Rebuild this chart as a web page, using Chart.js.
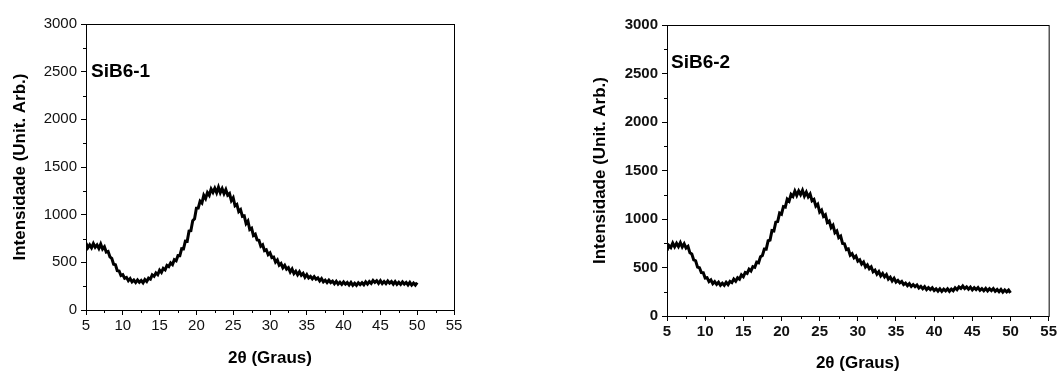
<!DOCTYPE html>
<html lang="pt">
<head>
    <meta charset="UTF-8">
    <title>SiB6 - DRX</title>
    <script src="https://cdn.jsdelivr.net/npm/chart.js"></script>
    <style>
        body { margin: 0; background: #fff; }
        .panel { position: absolute; top: 0; height: 374px; }
        #leftPanel { left: 0; width: 500px; }
        #rightPanel { left: 560px; width: 499px; }
    </style>
</head>
<body>
    <div class="panel" id="leftPanel"><canvas id="chart1"></canvas></div>
    <div class="panel" id="rightPanel"><canvas id="chart2"></canvas></div>

    <script>
        // 2theta (graus)
        const angles = [
            5, 5.25, 5.5, 5.75, 6, 6.25, 6.5, 6.75, 7, 7.25, 7.5, 7.75,
            8, 8.25, 8.5, 8.75, 9, 9.25, 9.5, 9.75, 10, 10.25, 10.5, 10.75,
            11, 11.25, 11.5, 11.75, 12, 12.25, 12.5, 12.75, 13, 13.25, 13.5, 13.75,
            14, 14.25, 14.5, 14.75, 15, 15.25, 15.5, 15.75, 16, 16.25, 16.5, 16.75,
            17, 17.25, 17.5, 17.75, 18, 18.25, 18.5, 18.75, 19, 19.25, 19.5, 19.75,
            20, 20.25, 20.5, 20.75, 21, 21.25, 21.5, 21.75, 22, 22.25, 22.5, 22.75,
            23, 23.25, 23.5, 23.75, 24, 24.25, 24.5, 24.75, 25, 25.25, 25.5, 25.75,
            26, 26.25, 26.5, 26.75, 27, 27.25, 27.5, 27.75, 28, 28.25, 28.5, 28.75,
            29, 29.25, 29.5, 29.75, 30, 30.25, 30.5, 30.75, 31, 31.25, 31.5, 31.75,
            32, 32.25, 32.5, 32.75, 33, 33.25, 33.5, 33.75, 34, 34.25, 34.5, 34.75,
            35, 35.25, 35.5, 35.75, 36, 36.25, 36.5, 36.75, 37, 37.25, 37.5, 37.75,
            38, 38.25, 38.5, 38.75, 39, 39.25, 39.5, 39.75, 40, 40.25, 40.5, 40.75,
            41, 41.25, 41.5, 41.75, 42, 42.25, 42.5, 42.75, 43, 43.25, 43.5, 43.75,
            44, 44.25, 44.5, 44.75, 45, 45.25, 45.5, 45.75, 46, 46.25, 46.5, 46.75,
            47, 47.25, 47.5, 47.75, 48, 48.25, 48.5, 48.75, 49, 49.25, 49.5, 49.75,
            50
        ];

        // SiB6-1 intensity (noisy trace)
        const sib61 = [
            702, 653, 683, 652, 697, 659, 683, 646, 692, 640, 663, 608,
            615, 558, 542, 480, 475, 413, 409, 362, 370, 333, 342, 307,
            330, 295, 314, 288, 315, 291, 310, 286, 320, 299, 334, 323,
            368, 353, 389, 370, 418, 394, 436, 421, 468, 456, 494, 476,
            528, 516, 571, 570, 643, 641, 722, 720, 828, 832, 937, 957,
            1068, 1069, 1142, 1122, 1203, 1169, 1232, 1204, 1268, 1234, 1277, 1230,
            1288, 1230, 1272, 1221, 1263, 1205, 1222, 1148, 1178, 1093, 1107, 1033,
            1053, 981, 987, 907, 933, 844, 857, 782, 795, 735, 731, 670,
            685, 622, 632, 582, 600, 550, 556, 502, 525, 470, 487, 443,
            468, 428, 444, 399, 430, 382, 407, 369, 400, 364, 384, 343,
            372, 337, 353, 327, 349, 323, 336, 306, 330, 296, 313, 288,
            312, 288, 303, 275, 301, 271, 291, 268, 294, 271, 288, 262,
            289, 260, 281, 259, 286, 267, 287, 265, 296, 272, 298, 280,
            310, 289, 307, 280, 307, 277, 298, 277, 304, 281, 298, 271,
            298, 269, 290, 268, 294, 272, 289, 263, 290, 261, 283, 261,
            287
        ];

        // SiB6-2 intensity (noisy trace)
        const sib62 = [
            676, 727, 706, 752, 713, 750, 716, 757, 711, 744, 701, 717,
            651, 640, 579, 570, 504, 498, 447, 446, 391, 395, 355, 373,
            334, 354, 327, 349, 316, 338, 316, 348, 324, 357, 344, 380,
            359, 395, 380, 424, 405, 449, 439, 483, 465, 509, 502, 556,
            549, 612, 624, 691, 690, 776, 782, 880, 876, 968, 973, 1061,
            1050, 1128, 1122, 1205, 1185, 1254, 1233, 1288, 1243, 1289, 1252, 1296,
            1237, 1276, 1228, 1258, 1188, 1202, 1132, 1152, 1072, 1092, 1028, 1045,
            965, 979, 912, 936, 859, 876, 808, 823, 748, 745, 685, 691,
            626, 642, 600, 618, 566, 580, 535, 556, 506, 527, 488, 507,
            456, 473, 432, 458, 413, 438, 403, 427, 381, 400, 361, 388,
            350, 367, 342, 357, 324, 339, 313, 333, 304, 324, 302, 320,
            289, 305, 281, 302, 273, 293, 272, 291, 262, 280, 257, 280,
            254, 277, 259, 281, 255, 278, 261, 291, 271, 299, 284, 309,
            283, 300, 276, 298, 270, 292, 272, 293, 265, 283, 261, 284,
            258, 281, 262, 283, 255, 273, 250, 273, 246, 268, 248, 267,
            238
        ];

        const minorXTicks = [7.5, 12.5, 17.5, 22.5, 27.5, 32.5, 37.5, 42.5, 47.5, 52.5];
        const minorYTicks = [250, 750, 1250, 1750, 2250, 2750];

        const FONT = '"Liberation Sans", Arial, sans-serif';

        // frame, minor ticks and sample name
        const framePlugin = {
            id: 'frame',
            afterDraw(chart, args, opts) {
                const { ctx, chartArea: a, scales: { x, y } } = chart;
                ctx.save();
                ctx.strokeStyle = '#000';
                ctx.lineWidth = 1;
                ctx.strokeRect(a.left + 0.5, a.top + 0.5, a.right - a.left, a.bottom - a.top);
                ctx.beginPath();
                minorXTicks.forEach(v => {
                    const px = Math.round(x.getPixelForValue(v)) + 0.5;
                    ctx.moveTo(px, a.bottom);
                    ctx.lineTo(px, a.bottom + 3);
                });
                minorYTicks.forEach(v => {
                    const py = Math.round(y.getPixelForValue(v)) + 0.5;
                    ctx.moveTo(a.left, py);
                    ctx.lineTo(a.left - 3, py);
                });
                ctx.stroke();
                ctx.fillStyle = '#000';
                ctx.font = 'bold 19px ' + FONT;
                ctx.textBaseline = 'middle';
                ctx.fillText(opts.label, a.left + opts.dx, y.getPixelForValue(opts.labelY));
                ctx.restore();
            }
        };

        function makeChart(id, values, cfg) {
            const tickFont = { family: FONT, size: 15, weight: cfg.boldTicks ? 'bold' : 'normal' };
            const titleFont = { family: FONT, size: 17, weight: 'bold' };
            new Chart(document.getElementById(id), {
                type: 'line',
                data: {
                    labels: angles,
                    datasets: [{
                        data: values,
                        borderColor: '#000',
                        borderWidth: 3,
                        pointRadius: 0,
                        tension: 0
                    }]
                },
                options: {
                    responsive: true,
                    maintainAspectRatio: false,
                    animation: false,
                    layout: { padding: cfg.padding },
                    plugins: {
                        legend: { display: false },
                        tooltip: { enabled: false },
                        frame: { label: cfg.label, labelY: cfg.labelY, dx: cfg.labelDx }
                    },
                    scales: {
                        x: {
                            type: 'linear',
                            min: 5,
                            max: 55,
                            afterFit: s => { s.height = cfg.xHeight; },
                            ticks: { stepSize: 5, color: '#111', font: tickFont, padding: 2, maxRotation: 0, callback: v => String(v) },
                            grid: { drawOnChartArea: false, drawTicks: true, tickLength: 5, color: '#000' },
                            border: { display: true, color: '#000', width: 1 },
                            title: {
                                display: true,
                                text: '2θ (Graus)',
                                color: '#000',
                                font: titleFont,
                                padding: { top: 0, bottom: cfg.xTitlePad }
                            }
                        },
                        y: {
                            min: 0,
                            max: 3000,
                            afterFit: s => { s.width = cfg.yWidth; },
                            ticks: { stepSize: 500, color: '#111', font: tickFont, padding: 4, callback: v => String(v) },
                            grid: { drawOnChartArea: false, drawTicks: true, tickLength: 5, color: '#000' },
                            border: { display: true, color: '#000', width: 1 },
                            title: {
                                display: true,
                                text: 'Intensidade (Unit. Arb.)',
                                color: '#000',
                                font: titleFont,
                                padding: { top: cfg.yTitlePad, bottom: 0 }
                            }
                        }
                    }
                },
                plugins: [framePlugin]
            });
        }

        makeChart('chart1', sib61, {
            label: 'SiB6-1', labelY: 2500, labelDx: 5,
            padding: { top: 24, right: 46, left: 0, bottom: 0 },
            yWidth: 86, xHeight: 64, yTitlePad: 10, xTitlePad: 5,
            boldTicks: false
        });

        makeChart('chart2', sib62, {
            label: 'SiB6-2', labelY: 2610, labelDx: 4,
            padding: { top: 25, right: 9, left: 0, bottom: 0 },
            yWidth: 107, xHeight: 58, yTitlePad: 30, xTitlePad: 0,
            boldTicks: true
        });
    </script>
</body>
</html>
